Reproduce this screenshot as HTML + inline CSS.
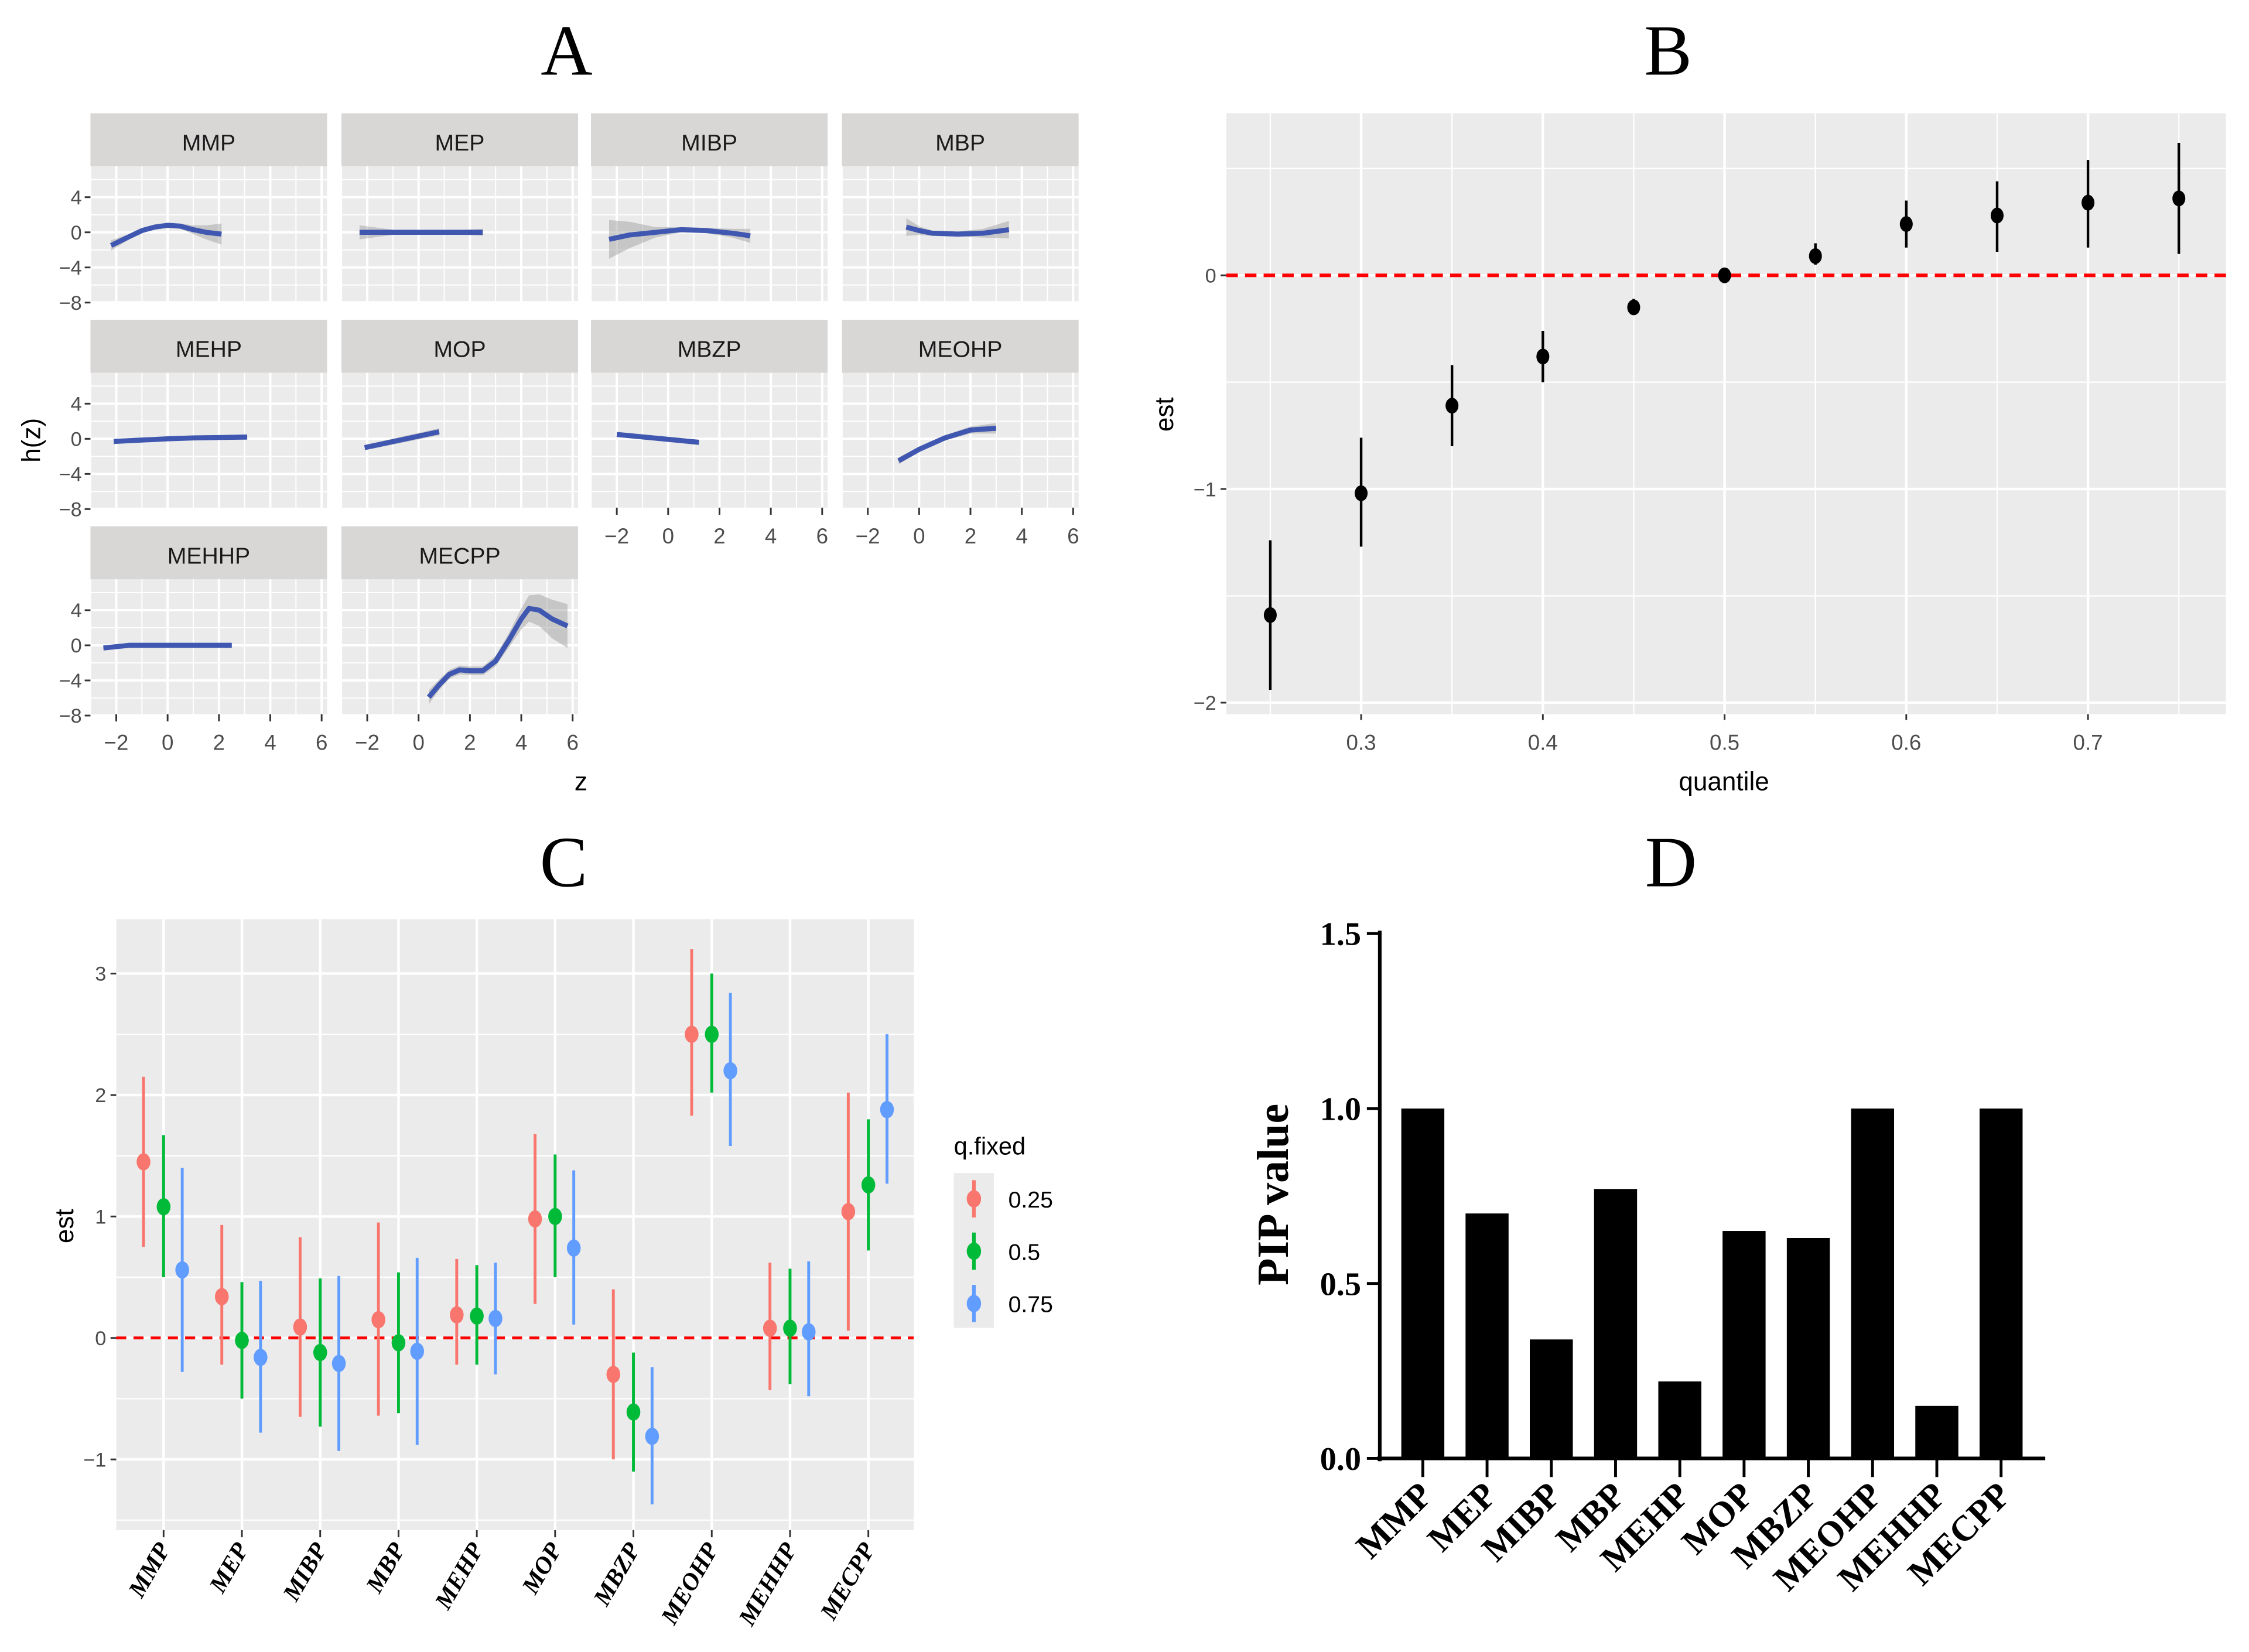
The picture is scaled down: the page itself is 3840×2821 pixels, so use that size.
<!DOCTYPE html>
<html><head><meta charset="utf-8">
<style>
html,body{margin:0;padding:0;background:#fff;}
svg{display:block;}
.s{font-family:"Liberation Sans",sans-serif;}
.r{font-family:"Liberation Serif",serif;}
</style></head>
<body>
<svg id="fig" xmlns="http://www.w3.org/2000/svg" width="3840" height="2821" viewBox="0 0 1568 1152">
<rect width="1568" height="1152" fill="#fff"/>
<text class="r" x="395" y="52" font-size="50" text-anchor="middle">A</text>
<text class="r" x="1163" y="52" font-size="50" text-anchor="middle">B</text>
<text class="r" x="393" y="618" font-size="50" text-anchor="middle">C</text>
<text class="r" x="1165" y="618" font-size="50" text-anchor="middle">D</text>
</svg>
<script>
// ---------- Panel A data ----------
const aNames=["MMP","MEP","MIBP","MBP","MEHP","MOP","MBZP","MEOHP","MEHHP","MECPP"];
const aX=[[-2.2,-1.5,-1,-0.5,0,0.5,1,1.5,2.1],[-2.3,-1,0,1,2.5],[-2.3,-1.5,-0.5,0.5,1.5,2.5,3.2],[-0.5,0,0.5,1.5,2.5,3.5],[-2.1,0,1,3.1],[-2.1,0.8],[-2,1.2],[-0.8,0,1,2,3],[-2.5,-1.5,2.5],[0.4,0.8,1.2,1.6,2,2.5,3,3.5,4,4.3,4.7,5.2,5.8]];
const aY=[[-1.5,-0.5,0.2,0.6,0.8,0.7,0.3,0,-0.2],[0,0,0,0,0],[-0.8,-0.3,0,0.3,0.2,-0.1,-0.4],[0.6,0.2,-0.1,-0.2,-0.1,0.3],[-0.3,0,0.1,0.2],[-1,0.8],[0.5,-0.4],[-2.5,-1.2,0.1,1,1.2],[-0.3,0,0],[-5.9,-4.5,-3.3,-2.8,-2.9,-2.9,-1.8,0.5,3,4.2,4,3,2.2]];
const aBand=[[0.6,0.3,0.2,0.2,0.2,0.3,0.5,0.8,1.2],[0.8,0.3,0.1,0.2,0.4],[2.2,1.5,0.6,0.3,0.3,0.5,0.8],[1,0.5,0.3,0.3,0.5,1],[0.3,0.2,0.2,0.3],[0.3,0.4],[0.3,0.3],[0.4,0.3,0.3,0.4,0.6],[0.3,0.2,0.2],[0.8,0.6,0.5,0.5,0.5,0.5,0.6,0.8,1.2,1.5,1.8,2.2,2.5]];
const aXTicks=[-2,0,2,4,6];
const aYTicks=[4,0,-4,-8];
// ---------- Panel B data ----------
const bQ=[0.25,0.30,0.35,0.40,0.45,0.50,0.55,0.60,0.65,0.70,0.75];
const bEst=[-1.59,-1.02,-0.61,-0.38,-0.15,0,0.09,0.24,0.28,0.34,0.36];
const bLo=[-1.94,-1.27,-0.8,-0.5,-0.18,-0.02,0.05,0.13,0.11,0.13,0.1];
const bHi=[-1.24,-0.76,-0.42,-0.26,-0.11,0.02,0.15,0.35,0.44,0.54,0.62];
const bXTicks=[0.3,0.4,0.5,0.6,0.7];
const bYTicks=[0,-1,-2];
// ---------- Panel C data ----------
const cCats=["MMP","MEP","MIBP","MBP","MEHP","MOP","MBZP","MEOHP","MEHHP","MECPP"];
const cLevels=["0.25","0.5","0.75"];
const cEst25=[1.45,0.34,0.09,0.15,0.19,0.98,-0.3,2.5,0.08,1.04];
const cLo25=[0.75,-0.22,-0.65,-0.64,-0.22,0.28,-1.0,1.83,-0.43,0.06];
const cHi25=[2.15,0.93,0.83,0.95,0.65,1.68,0.4,3.2,0.62,2.02];
const cEst50=[1.08,-0.02,-0.12,-0.04,0.18,1.0,-0.61,2.5,0.08,1.26];
const cLo50=[0.5,-0.5,-0.73,-0.62,-0.22,0.5,-1.1,2.02,-0.38,0.72];
const cHi50=[1.67,0.46,0.49,0.54,0.6,1.51,-0.12,3.0,0.57,1.8];
const cEst75=[0.56,-0.16,-0.21,-0.11,0.16,0.74,-0.81,2.2,0.05,1.88];
const cLo75=[-0.28,-0.78,-0.93,-0.88,-0.3,0.11,-1.37,1.58,-0.48,1.27];
const cHi75=[1.4,0.47,0.51,0.66,0.62,1.38,-0.24,2.84,0.63,2.5];
const cYTicks=[3,2,1,0,-1];
// ---------- Panel D data ----------
const dCats=["MMP","MEP","MIBP","MBP","MEHP","MOP","MBZP","MEOHP","MEHHP","MECPP"];
const dVals=[1.0,0.70,0.34,0.77,0.22,0.65,0.63,1.0,0.15,1.0];
const dYTicks=["0.0","0.5","1.0","1.5"];

const NS="http://www.w3.org/2000/svg";
const svg=document.getElementById('fig');
function mk(tag,attrs,parent,txt){const e=document.createElementNS(NS,tag);for(const k in attrs)e.setAttribute(k,attrs[k]);if(txt!==undefined)e.textContent=txt;(parent||svg).appendChild(e);return e;}
function line(p,x1,y1,x2,y2,st,w){return mk('line',{x1,y1,x2,y2,stroke:st,'stroke-width':w},p);}

// ===== Panel A =====
const gA=mk('g',{});


const colX=[63,238,412,587], colW=165;
const rowS=[79,223,367], stripH=37, panH=94;
aNames.forEach((nm,i)=>{
  const r=Math.floor(i/4), c=i%4;
  const x0=colX[c], s0=rowS[r], p0=s0+stripH, p1=p0+panH;
  const X=v=>x0+18+(v+2)*17.9;
  const Y=v=>p0+46-v*6.125;
  const g=mk('g',{},gA);
  
  
  const st=mk('rect',{x:x0,y:s0,width:colW,height:stripH,fill:'#D9D7D6'},g);
  
  
  const lbl=mk('text',{x:x0+colW/2,y:s0+26,'font-size':16,'text-anchor':'middle',class:'s',fill:'#1a1a1a'},g,nm);
  
  
  mk('rect',{x:x0,y:p0,width:colW,height:panH,fill:'#EBEBEB'},g);
  for(let v=-3;v<=6;v++){const xx=X(v);if(xx>x0&&xx<x0+colW)line(g,xx,p0,xx,p1,'#fff',v%2===0?1.6:0.8);}
  for(let v=-8;v<=7;v+=2){const yy=Y(v);if(yy>=p0&&yy<=p1)line(g,x0,yy,x0+colW,yy,'#fff',v%4===0?1.6:0.8);}
  const xs=aX[i], ys=aY[i], bd=aBand[i];
  let poly=xs.map((v,k)=>X(v)+','+Y(ys[k]+bd[k])).join(' ')+' '+xs.map((v,k)=>X(v)+','+Y(ys[k]-bd[k])).reverse().join(' ');
  const band=mk('polygon',{points:poly,fill:'#999',opacity:0.45},g);
  
  
  const ln=mk('polyline',{points:xs.map((v,k)=>X(v)+','+Y(ys[k])).join(' '),fill:'none',stroke:'#3F57B0','stroke-width':3.5,'stroke-linejoin':'round'},g);
  
  
  if(c===0){aYTicks.forEach(t=>{line(g,x0-4,Y(t),x0,Y(t),'#333',1.2);const tt=mk('text',{x:x0-6,y:Y(t)+5,'font-size':14,'text-anchor':'end',class:'s',fill:'#4d4d4d'},g,t<0?'\u2212'+(-t):t);});}
  if(i>=6){aXTicks.forEach(t=>{line(g,X(t),p1,X(t),p1+5,'#333',1.2);const tt=mk('text',{x:X(t),y:p1+25,'font-size':15,'text-anchor':'middle',class:'s',fill:'#4d4d4d'},g,t<0?'\u2212'+(-t):t);});}
});
const ah=mk('text',{x:28,y:307,'font-size':18,'text-anchor':'middle',class:'s',transform:'rotate(-90 28 307)'},gA,'h(z)');

const az=mk('text',{x:405,y:551,'font-size':18,'text-anchor':'middle',class:'s'},gA,'z');


// ===== Panel B =====
const gB=mk('g',{});


const bX=q=>949+(q-0.3)*1267, bY=v=>192-v*149;
mk('rect',{x:855,y:79,width:697,height:419,fill:'#EBEBEB'},gB);
[0.5,-0.5,-1.5].forEach(v=>line(gB,855,bY(v),1552,bY(v),'#fff',0.9));
bYTicks.forEach(v=>line(gB,855,bY(v),1552,bY(v),'#fff',1.8));
bQ.forEach((q,k)=>{const maj=Math.abs(q*10-Math.round(q*10))<1e-6;line(gB,bX(q),79,bX(q),498,'#fff',maj?1.8:0.9);});
const rl=line(gB,855,bY(0),1552,bY(0),'#FF0000',2.5);rl.setAttribute('stroke-dasharray','8 5');

bQ.forEach((q,k)=>{
  const l=line(gB,bX(q),bY(bLo[k]),bX(q),bY(bHi[k]),'#000',1.8);
  
  const p=mk('ellipse',{cx:bX(q),cy:bY(bEst[k]),rx:4.5,ry:5.5,fill:'#000'},gB);
  
});
bYTicks.forEach(v=>{line(gB,851,bY(v),855,bY(v),'#333',1.2);const t=mk('text',{x:848,y:bY(v)+5,'font-size':14,'text-anchor':'end',class:'s',fill:'#4d4d4d'},gB,v<0?'\u2212'+(-v):v);});
bXTicks.forEach(v=>{line(gB,bX(v),498,bX(v),502,'#333',1.2);const t=mk('text',{x:bX(v),y:523,'font-size':15,'text-anchor':'middle',class:'s',fill:'#4d4d4d'},gB,v.toFixed(1));});
const bxt=mk('text',{x:1202,y:551,'font-size':18,'text-anchor':'middle',class:'s'},gB,'quantile');

const byt=mk('text',{x:818,y:289,'font-size':18,'text-anchor':'middle',class:'s',transform:'rotate(-90 818 289)'},gB,'est');


// ===== Panel C =====
const gC=mk('g',{});


const cX=i=>114+i*54.6, cY=v=>933-v*84.7;
mk('rect',{x:81,y:641,width:556,height:426,fill:'#EBEBEB'},gC);
[3.5,2.5,1.5,0.5,-0.5,-1.5].forEach(v=>line(gC,81,cY(v),637,cY(v),'#fff',0.9));
cYTicks.forEach(v=>line(gC,81,cY(v),637,cY(v),'#fff',1.8));
cCats.forEach((c,i)=>line(gC,cX(i),641,cX(i),1067,'#fff',1.8));
const rc=line(gC,81,cY(0),637,cY(0),'#FF0000',2);rc.setAttribute('stroke-dasharray','7 5');

const cCols=['#F8766D','#00BA38','#619CFF'], cOff=[-14,0,13];
const cSeries=[[cEst25,cLo25,cHi25],[cEst50,cLo50,cHi50],[cEst75,cLo75,cHi75]];
cSeries.forEach((s,j)=>{
  cCats.forEach((c,i)=>{
    const x=cX(i)+cOff[j];
    const l=line(gC,x,cY(s[1][i]),x,cY(s[2][i]),cCols[j],2);
    
    const p=mk('ellipse',{cx:x,cy:cY(s[0][i]),rx:4.8,ry:6,fill:cCols[j]},gC);
    
  });
});
cYTicks.forEach(v=>{line(gC,77,cY(v),81,cY(v),'#333',1.2);const t=mk('text',{x:74,y:cY(v)+5,'font-size':14,'text-anchor':'end',class:'s',fill:'#4d4d4d'},gC,v<0?'\u2212'+(-v):v);});
cCats.forEach((c,i)=>{line(gC,cX(i),1067,cX(i),1072,'#333',1.2);const x=cX(i)+5,y=1080;const t=mk('text',{x,y,'font-size':17,'text-anchor':'end',class:'r','font-weight':'bold','font-style':'italic',transform:`rotate(-60 ${x} ${y})`},gC,c);});
const cyt=mk('text',{x:51,y:855,'font-size':18,'text-anchor':'middle',class:'s',transform:'rotate(-90 51 855)'},gC,'est');

const leg=mk('g',{},gC);

mk('text',{x:665,y:805,'font-size':17,class:'s'},leg,'q.fixed');
mk('rect',{x:665,y:818,width:28,height:108,fill:'#EBEBEB'},leg);
cLevels.forEach((lv,j)=>{
  const y=836+j*36.5;
  const e=mk('g',{},leg);
  
  line(e,679,y-13,679,y+13,cCols[j],2.5);
  mk('ellipse',{cx:679,cy:y,rx:5,ry:6,fill:cCols[j]},e);
  mk('text',{x:703,y:y+6,'font-size':16,class:'s'},e,lv);
});

// ===== Panel D =====
const gD=mk('g',{});


const dY=v=>1017-v*244, dX=i=>992+i*44.8;
dCats.forEach((c,i)=>{
  const b=mk('rect',{x:dX(i)-15,y:dY(dVals[i]),width:30,height:dY(0)-dY(dVals[i]),fill:'#000'},gD);
  
  line(gD,dX(i),1017,dX(i),1030,'#000',2);
  const x=dX(i)+8,y=1044;
  const t=mk('text',{x,y,'font-size':25,'text-anchor':'end',class:'r','font-weight':'bold',transform:`rotate(-45 ${x} ${y})`},gD,c);
  
});
const yax=line(gD,962,649,962,1019,'#000',2.5);
const xax=line(gD,960,1017,1426,1017,'#000',2.5);
dYTicks.forEach(s=>{const v=parseFloat(s);line(gD,953,dY(v),962,dY(v),'#000',2);const t=mk('text',{x:949,y:dY(v)+8,'font-size':23,'text-anchor':'end',class:'r','font-weight':'bold'},gD,s);});
const dyt=mk('text',{x:898,y:833,'font-size':31,'text-anchor':'middle',class:'r','font-weight':'bold',transform:'rotate(-90 898 833)'},gD,'PIP value');

</script>
</body></html>
